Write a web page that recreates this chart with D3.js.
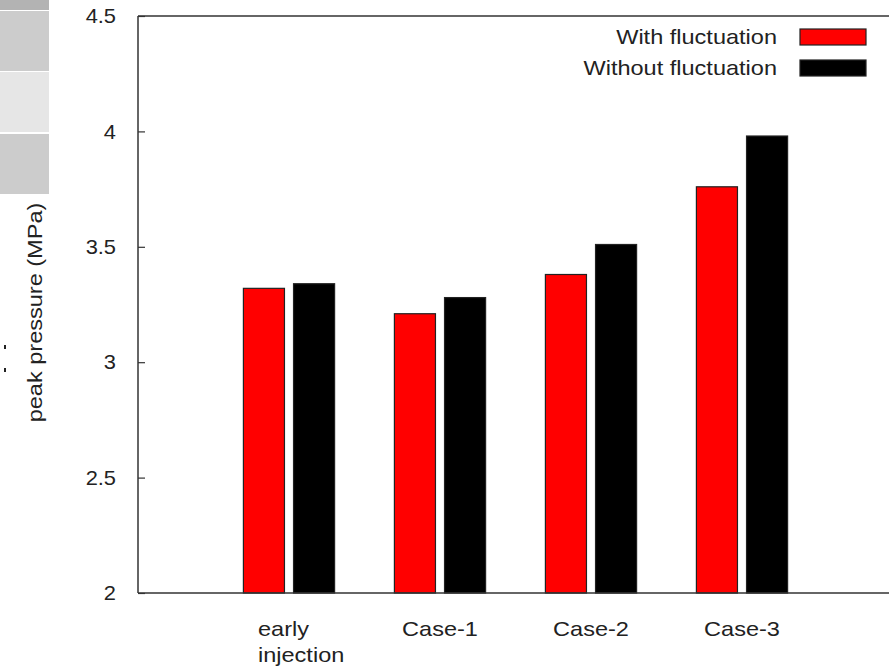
<!DOCTYPE html>
<html>
<head>
<meta charset="utf-8">
<script src="https://cdn.jsdelivr.net/npm/d3@7"></script>
<style>
  html, body { margin: 0; padding: 0; background: #fff; }
  svg { display: block; }
  text { font-family: "Liberation Sans", Arial, sans-serif; fill: #222; }
</style>
</head>
<body>
<svg id="chart" width="889" height="666"></svg>
<script>
// Peak pressure per injection case, with and without fluctuation
const categories = ["early\ninjection", "Case-1", "Case-2", "Case-3"];
const withFluctuation = [3.32, 3.21, 3.38, 3.76];
const withoutFluctuation = [3.34, 3.28, 3.51, 3.98];
const seriesNames = ["With fluctuation", "Without fluctuation"];
const seriesColors = ["#ff0000", "#000000"];
const yTicks = [2, 2.5, 3, 3.5, 4, 4.5];
const yLabel = "peak pressure (MPa)";

const svg = d3.select("#chart");
const W = 889, H = 666;
const margin = { left: 138, top: 16, bottom: 73 };
const FS = 21;
const STRETCH = 1.12;

// widen a text element horizontally by a fixed factor
function widen(sel, k) {
  sel.each(function () {
    const len = this.getComputedTextLength();
    d3.select(this).attr("textLength", len * k).attr("lengthAdjust", "spacingAndGlyphs");
  });
}

// Category slots sit at 0..n-1 on a linear axis padded by one slot on each side
const x = d3.scaleLinear().domain([-1, categories.length]).range([margin.left, 893]);
const y = d3.scaleLinear().domain([2, 4.5]).range([H - margin.bottom, margin.top]);

// edge of the adjacent panel
const strip = svg.append("g");
[[0, 10, "#b3b3b3"], [11, 71, "#cccccc"], [72, 132, "#e6e6e6"], [134, 194, "#cccccc"]].forEach(([y0, y1, c]) => {
  strip.append("rect").attr("x", 0).attr("y", y0).attr("width", 49).attr("height", y1 - y0).attr("fill", c);
});
strip.append("rect").attr("x", 4).attr("y", 345).attr("width", 2).attr("height", 4).attr("fill", "#222");
strip.append("rect").attr("x", 4).attr("y", 368).attr("width", 2).attr("height", 4).attr("fill", "#222");

// bars
const barW = 0.272;
const offsets = [-0.166, 0.166];
const series = [withFluctuation, withoutFluctuation];
series.forEach((vals, s) => {
  svg.append("g").selectAll("rect").data(vals).join("rect")
    .attr("x", (d, i) => x(i + offsets[s] - barW / 2))
    .attr("y", d => y(d))
    .attr("width", x(barW) - x(0))
    .attr("height", d => y(2) - y(d))
    .attr("fill", seriesColors[s])
    .attr("stroke", "#222")
    .attr("stroke-width", 1.2);
});

// frame
const frame = svg.append("g").attr("fill", "none").attr("stroke", "#333").attr("stroke-width", 1.5);
frame.append("line").attr("x1", margin.left).attr("x2", W).attr("y1", y(4.5)).attr("y2", y(4.5));
frame.append("line").attr("x1", margin.left).attr("x2", W).attr("y1", y(2)).attr("y2", y(2));
frame.append("line").attr("x1", margin.left).attr("x2", margin.left).attr("y1", y(4.5)).attr("y2", y(2));

// y axis with inward ticks
const yAxis = d3.axisLeft(y).tickValues(yTicks).tickSizeInner(-7).tickSizeOuter(0).tickPadding(22)
  .tickFormat(d3.format("~g"));
const gy = svg.append("g").attr("transform", `translate(${margin.left},0)`).call(yAxis);
gy.select(".domain").remove();
gy.selectAll("line").attr("stroke", "#333").attr("stroke-width", 1.2);
gy.selectAll("text").attr("font-size", FS).attr("fill", "#222").style("font-family", "Liberation Sans, Arial, sans-serif");
widen(gy.selectAll("text"), 1.04);

// category labels
const gx = svg.append("g");
categories.forEach((c, i) => {
  const lines = c.split("\n");
  const multi = lines.length > 1;
  const tx = multi ? x(i) - 31 : x(i);
  lines.forEach((l, k) => {
    gx.append("text").attr("font-size", FS)
      .attr("text-anchor", multi ? "start" : "middle")
      .attr("x", tx).attr("y", 636 + k * 26).text(l);
  });
});
widen(gx.selectAll("text"), STRETCH);

// y label
const yl = svg.append("text")
  .attr("transform", `translate(42,${(y(2) + y(4.5)) / 2 + 8}) rotate(-90)`)
  .attr("text-anchor", "middle")
  .attr("font-size", FS)
  .text(yLabel);
widen(yl, STRETCH);

// legend
const leg = svg.append("g");
seriesNames.forEach((n, s) => {
  const cy = 37 + s * 31;
  leg.append("text").attr("x", 777).attr("y", cy + 7).attr("text-anchor", "end").attr("font-size", FS).text(n);
  leg.append("rect").attr("x", 800).attr("y", cy - 8).attr("width", 66).attr("height", 16)
    .attr("fill", seriesColors[s]).attr("stroke", "#222").attr("stroke-width", 1.2);
});
widen(leg.selectAll("text"), STRETCH);
</script>
</body>
</html>
